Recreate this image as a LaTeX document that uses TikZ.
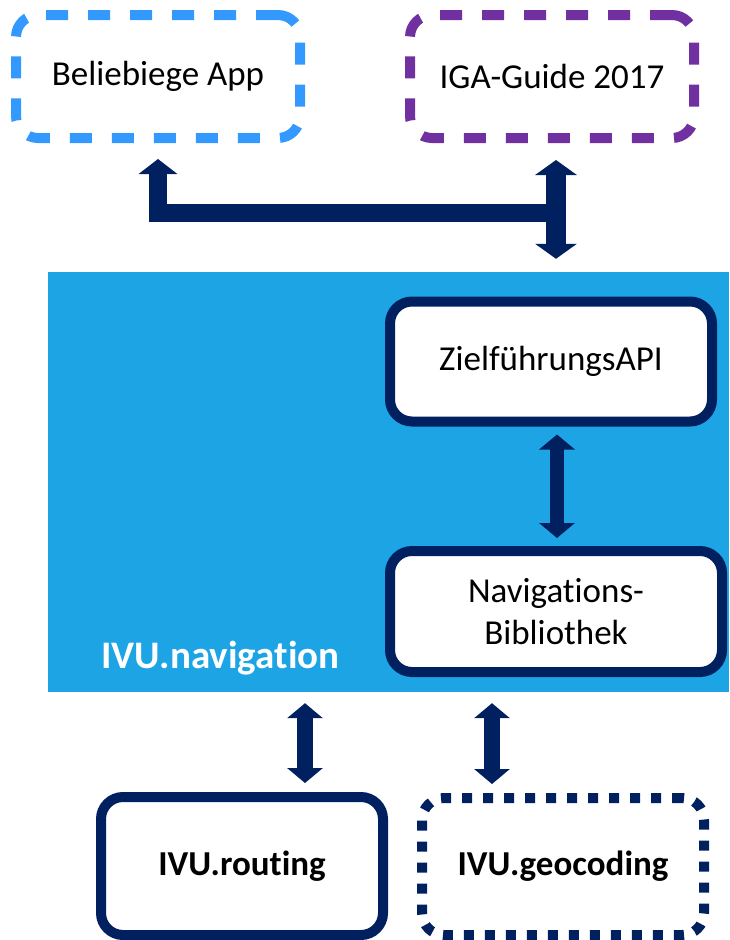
\documentclass[tikz,border=0pt]{standalone}
\usepackage{fontspec}
\setmainfont{Carlito}[Ligatures=NoCommon]
\usetikzlibrary{arrows.meta}
\definecolor{navy}{HTML}{002060}
\definecolor{appblue}{HTML}{3399FF}
\definecolor{igapurple}{HTML}{7030A0}
\definecolor{ivublue}{HTML}{1CA4E4}
\tikzset{
  box/.style={rectangle, rounded corners=22pt, line width=10pt, fill=white, align=center,
    font=\fontsize{35}{42}\selectfont, text=black, inner sep=0pt},
  dashbox/.style={box, dash pattern=on 22pt off 20pt},
  dotbox/.style={box, draw=navy, dash pattern=on 10pt off 11pt},
  tipA/.tip={Triangle[width=38pt,length=15pt]},
  fat/.style={draw=navy, line width=18pt},
  mid/.style={draw=navy, line width=14pt},
}
\begin{document}
\begin{tikzpicture}[x=1pt,y=-1pt]
\useasboundingbox (0,0) rectangle (729,940);
% blue area
\node[fill=ivublue, minimum width=681pt, minimum height=420pt, inner sep=0pt] (nav) at (388.5,482) {};
\node[anchor=base west, inner sep=0pt, text=white, font=\fontsize{39}{44}\selectfont\bfseries] (navlabel) at (101,668) {IVU.navigation};
% top boxes
\node[dashbox, draw=appblue, minimum width=284pt, minimum height=123pt] (app) at (158,76.5) {Beliebiege App};
\node[dashbox, draw=igapurple, minimum width=284pt, minimum height=123pt] (iga) at (552,76.5) {IGA-Guide 2017};
% inner boxes
\node[box, draw=navy, minimum width=322pt, minimum height=120pt] (api) at (551,361.5) {ZielführungsAPI};
\node[box, draw=navy, minimum width=332pt, minimum height=121pt] (lib) at (556,611.5) {Navigations-\\Bibliothek};
% bottom boxes
\node[box, draw=navy, minimum width=282pt, minimum height=138pt, font=\fontsize{35}{42}\selectfont\bfseries] (routing) at (242,866) {IVU.routing};
\node[dotbox, minimum width=282pt, minimum height=137pt, font=\fontsize{35}{42}\selectfont\bfseries] (geo) at (563,866.5) {IVU.geocoding};
% connectors
\coordinate (tj) at (556,213);
\draw[fat, -{tipA}, shorten >=16pt] (tj) -| (app.south);
\draw[fat, line width=20pt, {tipA[width=41pt]}-{tipA[width=41pt]}, shorten <=17pt, shorten >=13pt] (iga.south -| tj) -- (nav.north -| tj);
\draw[mid, {tipA[width=35pt]}-{tipA[width=35pt]}, shorten <=8pt, shorten >=8pt] (api.south -| 557,0) -- (lib.north -| 557,0);
\draw[mid, line width=16pt, {tipA[width=35pt]}-{tipA[width=35pt]}, shorten <=11pt, shorten >=9pt] (nav.south -| 305,0) -- (routing.north -| 305,0);
\draw[mid, line width=16pt, {tipA[width=35pt]}-{tipA[width=35pt]}, shorten <=11pt, shorten >=9pt] (nav.south -| 492,0) -- (geo.north -| 492,0);
\end{tikzpicture}
\end{document}
